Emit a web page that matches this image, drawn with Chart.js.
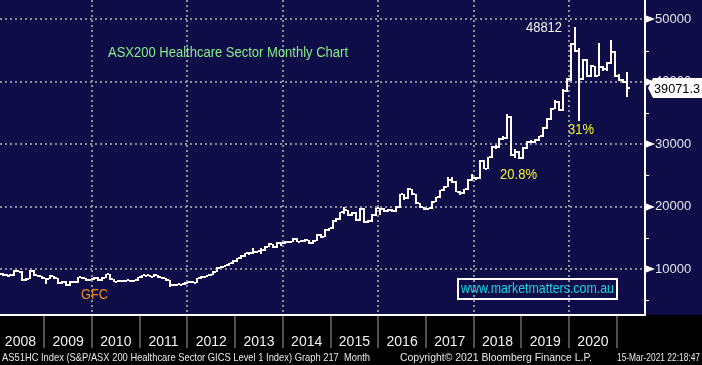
<!DOCTYPE html>
<html>
<head>
<meta charset="utf-8">
<script src="https://cdn.jsdelivr.net/npm/chart.js@4.4.1/dist/chart.umd.min.js"></script>
<style>
  html, body { margin: 0; padding: 0; background: #000; }
</style>
</head>
<body>
<canvas id="chart" width="702" height="365"></canvas>
<script>
// year labels along the bottom band (Jan 2008 = month 0)
const years = ["2008", "2009", "2010", "2011", "2012", "2013", "2014", "2015", "2016", "2017", "2018", "2019", "2020"];

// monthly OHLC, Jan 2008 .. Mar 2021
const opens = [
  9100, 9200, 9040, 8900, 9040, 9680, 9570, 8240, 8450, 9680,
  9000, 8880, 8500, 8450, 8880, 8500, 7700, 7970, 7440, 7970,
  7860, 8670, 8560, 8240, 8350, 8610, 8240, 8610, 9150, 8400,
  7970, 8130, 8080, 8180, 8080, 8240, 8670, 8990, 8990, 8770,
  9040, 8670, 8500, 8240, 7440, 7440, 7550, 7600, 7810, 7970,
  7810, 8500, 8770, 8880, 9090, 9570, 10210, 10370, 10640, 10900,
  11330, 11710, 12130, 12500, 12610, 12660, 12880, 13050, 13580, 13950,
  13470, 14220, 14110, 14380, 14380, 14810, 14380, 14490, 14650, 14110,
  14540, 15450, 15180, 16250, 16520, 17690, 18010, 19080, 19460, 18660,
  19030, 17850, 19620, 17580, 17690, 18660, 19730, 19620, 19300, 19460,
  19300, 19990, 21970, 21330, 22820, 21970, 20530, 19890, 19570, 19730,
  20800, 21500, 22600, 23200, 24200, 24000, 22400, 22250, 22780, 24270,
  24540, 24600, 27300, 26100, 27900, 29600, 29500, 30900, 31000, 34400,
  28300, 28800, 27800, 29350, 30400, 30400, 30700, 31300, 32600, 34000,
  35700, 36800, 35500, 38600, 40400, 46000, 45000, 40500, 43500, 41000,
  42500, 41000, 42400, 42000, 43000, 44800, 41000, 40300, 40000
];
const highs = [
  9400, 9350, 9200, 9150, 9800, 9900, 9650, 8600, 9900, 9800,
  9100, 8950, 8600, 9000, 8950, 8600, 8050, 8100, 8050, 8100,
  8750, 8750, 8600, 8400, 8700, 8650, 8700, 9250, 9200, 8450,
  8200, 8200, 8250, 8200, 8300, 8750, 9050, 9100, 9050, 9150,
  9100, 8750, 8550, 8300, 7550, 7600, 7650, 7900, 8050, 8050,
  8550, 8850, 8950, 9150, 9650, 10300, 10450, 10700, 10950, 11400,
  11800, 12200, 12600, 12700, 13300, 12950, 13400, 13650, 14100, 14000,
  14300, 14300, 14450, 14500, 14900, 14900, 14600, 14750, 14700, 14600,
  15600, 15550, 16350, 16650, 17800, 18100, 19200, 19900, 19500, 19200,
  19100, 19750, 19700, 17800, 18750, 19850, 19800, 19700, 19550, 19550,
  20100, 22100, 22000, 22950, 22900, 22000, 20600, 19950, 19850, 20900,
  21600, 22700, 23300, 24800, 24700, 24100, 22500, 22900, 24400, 25200,
  24800, 27400, 27400, 28000, 29700, 29900, 31000, 31300, 34900, 34500,
  29300, 28900, 29500, 30500, 30700, 30900, 31400, 32700, 34200, 35800,
  37100, 36900, 38800, 40600, 46300, 48812, 45500, 43700, 43600, 42700,
  42600, 46200, 42500, 43200, 46700, 45000, 41200, 40500, 41600
];
const lows = [
  8950, 8900, 8800, 8800, 8850, 9450, 8100, 8150, 8350, 8900,
  8750, 8400, 7600, 8350, 8400, 7600, 7600, 7350, 7350, 7750,
  7750, 8450, 8150, 8150, 8250, 8150, 8150, 8550, 8300, 7850,
  7900, 7950, 8000, 7950, 8000, 8150, 8550, 8850, 8650, 8700,
  8550, 8400, 8100, 7100, 7250, 7350, 7450, 7500, 7700, 7700,
  7700, 8400, 8650, 8800, 9000, 9450, 10100, 10250, 10550, 10800,
  11200, 11600, 12000, 12300, 12350, 12500, 12400, 12950, 13450, 13350,
  13350, 13700, 14000, 14200, 14300, 14300, 14300, 14400, 14000, 14050,
  14450, 15050, 15100, 16100, 16400, 17600, 17900, 18800, 18500, 18500,
  17700, 17750, 17400, 17450, 17600, 18550, 18650, 19200, 19200, 19200,
  19200, 19850, 21100, 21200, 21800, 20400, 19800, 19400, 19500, 19600,
  20700, 21400, 22500, 23100, 23800, 22300, 21900, 22100, 22700, 24100,
  24300, 24500, 26000, 26000, 27800, 29300, 29400, 30700, 30900, 28100,
  27800, 27650, 27700, 29200, 30200, 30200, 30500, 31200, 32500, 33900,
  35600, 35300, 35400, 38400, 40200, 44800, 33680, 40300, 40800, 40800,
  40800, 40900, 41800, 41800, 42800, 40800, 40100, 39800, 37500
];
const closes = [
  9200, 9040, 8900, 9040, 9680, 9570, 8240, 8450, 9680, 9000,
  8880, 8500, 8450, 8880, 8500, 7700, 7970, 7440, 7970, 7860,
  8670, 8560, 8240, 8350, 8610, 8240, 8610, 9150, 8400, 7970,
  8130, 8080, 8180, 8080, 8240, 8670, 8990, 8990, 8770, 9040,
  8670, 8500, 8240, 7440, 7440, 7550, 7600, 7810, 7970, 7810,
  8500, 8770, 8880, 9090, 9570, 10210, 10370, 10640, 10900, 11330,
  11710, 12130, 12500, 12610, 12660, 12880, 13050, 13580, 13950, 13470,
  14220, 14110, 14380, 14380, 14810, 14380, 14490, 14650, 14110, 14540,
  15450, 15180, 16250, 16520, 17690, 18010, 19080, 19460, 18660, 19030,
  17850, 19620, 17580, 17690, 18660, 19730, 19620, 19300, 19460, 19300,
  19990, 21970, 21330, 22820, 21970, 20530, 19890, 19570, 19730, 20800,
  21500, 22600, 23200, 24200, 24000, 22400, 22250, 22780, 24270, 24540,
  24600, 27300, 26100, 27900, 29600, 29500, 30900, 31000, 34400, 28300,
  28800, 27800, 29350, 30400, 30400, 30700, 31300, 32600, 34000, 35700,
  36800, 35500, 38600, 40400, 46000, 45000, 40500, 43500, 41000, 42500,
  41000, 42400, 42000, 43000, 44800, 41000, 40300, 40000, 39071.3
];

// right axis ticks (labelled every 10000, small marks every 5000)
const yTicks = [5000, 10000, 15000, 20000, 25000, 30000, 35000, 40000, 45000, 50000];
const yLabelTicks = [10000, 20000, 30000, 40000, 50000];

const NAVY = "#0e0d47";
const GRID = "#8e8e9a";
const FONT = "'Liberation Sans', Arial, sans-serif";

// ===== BACKGROUND =====
const backdrop = {
  id: "backdrop",
  beforeDraw(chart) {
    const { ctx, chartArea } = chart;
    ctx.save();
    ctx.fillStyle = "#000";
    ctx.fillRect(0, 0, chart.width, chart.height);
    ctx.fillStyle = NAVY;
    ctx.fillRect(0, 0, chart.width, chartArea.bottom);
    ctx.restore();
  }
};

// ===== OHLC BARS =====
const ohlcBars = {
  id: "ohlcBars",
  afterDatasetsDraw(chart) {
    const { ctx, chartArea, scales: { x, y } } = chart;
    ctx.save();
    ctx.beginPath();
    ctx.rect(chartArea.left, chartArea.top, chartArea.right - chartArea.left, chartArea.bottom - chartArea.top);
    ctx.clip();
    ctx.fillStyle = "#fff";
    closes.forEach((c, i) => {
      const px = Math.round(x.getPixelForValue(i));
      const yh = Math.round(y.getPixelForValue(highs[i]));
      const yl = Math.round(y.getPixelForValue(lows[i]));
      const yo = Math.round(y.getPixelForValue(opens[i]));
      const yc = Math.round(y.getPixelForValue(c));
      ctx.fillRect(px - 1, yh, 2, Math.max(yl - yh, 2));
      ctx.fillRect(px - 3, yo - 1, 2, 2);
      ctx.fillRect(px + 1, yc - 1, 2, 2);
    });
    ctx.restore();
  }
};

function text(ctx, str, x, y, color, size, align, maxW) {
  ctx.fillStyle = color;
  ctx.font = size + "px " + FONT;
  ctx.textAlign = align || "left";
  ctx.textBaseline = "middle";
  if (maxW) ctx.fillText(str, x, y, maxW);
  else ctx.fillText(str, x, y);
}

// ===== AXIS MARKERS, NOTES, FOOTER =====
const decorations = {
  id: "decorations",
  afterDraw(chart) {
    const { ctx, chartArea, scales: { x, y } } = chart;
    const ax = chartArea.right;
    ctx.save();

    ctx.fillStyle = "#fff";
    yTicks.forEach(v => {
      const py = Math.round(y.getPixelForValue(v));
      if (yLabelTicks.includes(v)) {
        ctx.beginPath();
        ctx.moveTo(ax, py - 4);
        ctx.lineTo(ax + 10, py);
        ctx.lineTo(ax, py + 4);
        ctx.closePath();
        ctx.fill();
      } else {
        ctx.fillRect(ax, py, 4, 1);
      }
    });

    // last price tag
    const last = closes[closes.length - 1];
    const ly = Math.round(y.getPixelForValue(last));
    ctx.fillStyle = "#fff";
    ctx.beginPath();
    ctx.moveTo(ax + 3, ly);
    ctx.lineTo(ax + 8, ly - 10);
    ctx.lineTo(chart.width, ly - 10);
    ctx.lineTo(chart.width, ly + 10);
    ctx.lineTo(ax + 8, ly + 10);
    ctx.closePath();
    ctx.fill();
    text(ctx, String(last), ax + 9, ly + 1, "#000", 13, "left", 46);

    // notes on the chart
    text(ctx, "ASX200 Healthcare Sector Monthly Chart", 108, 53, "#86ee8c", 14, "left", 240);
    text(ctx, String(highs[145]), 526, 28, "#f4f4f4", 14, "left", 36);
    text(ctx, "31%", 568, 130, "#f4f42e", 14, "left", 26);
    text(ctx, "20.8%", 500, 175, "#f4f42e", 14, "left", 37);
    text(ctx, "GFC", 81, 295, "#f08a1c", 14, "left", 27);

    ctx.strokeStyle = "#fff";
    ctx.lineWidth = 2;
    ctx.strokeRect(458, 279, 159, 20);
    text(ctx, "www.marketmatters.com.au", 537.5, 289, "#18d4e4", 15, "center", 153);

    // footer
    text(ctx, "AS51HC Index (S&P/ASX 200 Healthcare Sector GICS Level 1 Index) Graph 217  Month", 2, 358, "#e8e8e8", 11, "left", 368);
    text(ctx, "Copyright\u00a9 2021 Bloomberg Finance L.P.", 400, 358, "#e8e8e8", 11, "left", 192);
    text(ctx, "15-Mar-2021 22:18:47", 617, 358, "#e8e8e8", 11, "left", 83);
    ctx.restore();
  }
};

new Chart(document.getElementById("chart"), {
  type: "line",
  data: {
    datasets: [{
      data: closes.map((c, i) => ({ x: i, y: c })),
      showLine: false,
      pointRadius: 0,
      borderWidth: 0
    }]
  },
  options: {
    responsive: false,
    animation: false,
    devicePixelRatio: 1,
    events: [],
    layout: { padding: 0 },
    plugins: { legend: { display: false }, tooltip: { enabled: false } },
    scales: {
      x: {
        type: "linear",
        min: 0.36,
        max: 162.6,
        afterBuildTicks: s => { s.ticks = years.map((yr, k) => ({ value: 12 * k + 5.5 })); },
        afterFit: s => { s.height = 50; s.paddingLeft = 0; s.paddingRight = 0; },
        ticks: {
          autoSkip: false,
          maxRotation: 0,
          minRotation: 0,
          padding: -14,
          color: "#f2f2f2",
          font: { family: FONT, size: 14 },
          callback: (v, i) => years[i]
        },
        grid: {
          offset: true,
          color: c => (c.index % 2 === 0 ? GRID : "transparent"),
          lineWidth: 2,
          drawTicks: true,
          tickLength: 33,
          tickColor: "#a0a0a0",
          tickWidth: 1
        },
        border: { color: "#fff", width: 2, dash: [2, 3] }
      },
      y: {
        type: "linear",
        position: "right",
        min: 2626,
        max: 53125,
        afterBuildTicks: s => { s.ticks = yTicks.map(v => ({ value: v })); },
        afterFit: s => { s.width = 57; s.paddingTop = 0; s.paddingBottom = 0; },
        ticks: {
          padding: 0,
          color: "#e4e4ee",
          font: { family: FONT, size: 13 },
          callback: v => (yLabelTicks.includes(v) ? String(v) : "")
        },
        grid: {
          color: c => (c.tick && yLabelTicks.includes(c.tick.value) ? GRID : "transparent"),
          lineWidth: 2,
          drawTicks: true,
          tickLength: 10,
          tickColor: "transparent"
        },
        border: { color: "#fff", width: 2, dash: [2, 3] }
      }
    }
  },
  plugins: [backdrop, ohlcBars, decorations]
});
</script>
</body>
</html>
